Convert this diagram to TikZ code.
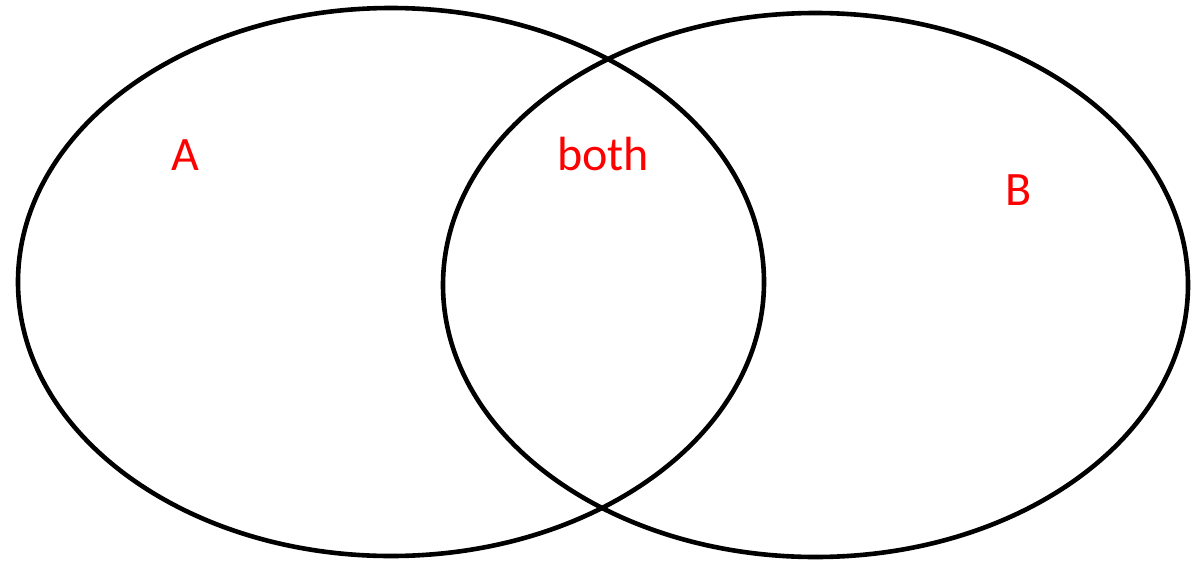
\documentclass[tikz,border=0pt]{standalone}
\usepackage{fontspec}
\setmainfont{Carlito}
\usetikzlibrary{shapes.geometric}
\begin{document}
\begin{tikzpicture}[x=1pt,y=-1pt,
  setring/.style={draw=black,line width=4.6pt,ellipse,inner sep=0pt,outer sep=0pt},
  lbl/.style={text=red,font=\fontsize{48}{52}\selectfont,inner sep=0pt}]
\useasboundingbox (0,0) rectangle (1193,560);
\node[setring,minimum width=746pt,minimum height=548pt] (setA) at (391,282) {};
\node[setring,minimum width=745pt,minimum height=544pt] (setB) at (815.5,285) {};
\node[lbl] (la) at (185,155.5) {A};
\node[lbl] (lboth) at (603,154.5) {both};
\node[lbl] (lb) at (1019,190) {B};
\end{tikzpicture}
\end{document}
